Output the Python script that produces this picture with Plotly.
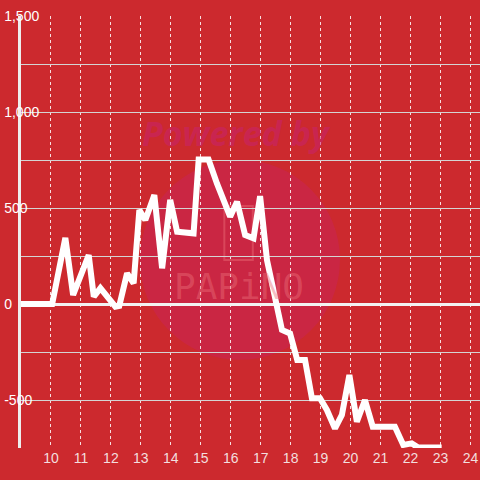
import plotly.graph_objects as go

# 时间（小时）与数值
hours = [9.0, 10.04, 10.48, 10.74, 11.26, 11.43, 11.65, 12.15, 12.28, 12.54, 12.76,
         12.95, 13.15, 13.45, 13.71, 13.98, 14.21, 14.76, 14.93, 15.26, 15.54,
         15.98, 16.21, 16.48, 16.76, 16.98, 17.21, 17.71, 17.98, 18.22, 18.48,
         18.71, 18.98, 19.21, 19.48, 19.71, 19.96, 20.21, 20.48, 20.74, 21.48,
         21.76, 22.04, 22.26, 23.04]
values = [0, 0, 344, 47, 255, 38, 83, -14, -10, 160, 108,
          490, 437, 567, 186, 542, 377, 368, 753, 753, 628,
          455, 533, 359, 342, 562, 229, -135, -153, -292, -292,
          -491, -491, -552, -648, -578, -370, -613, -500, -639, -639,
          -734, -726, -748, -748]

x_ticks = list(range(10, 25))
y_ticks = list(range(-750, 1501, 250))
y_labels = [f"{v:,}" if v % 500 == 0 else "" for v in y_ticks]

BG = "#cc292e"

fig = go.Figure()
fig.add_trace(go.Scatter(
    x=hours, y=values, mode="lines",
    line=dict(color="#ffffff", width=6),
    hoverinfo="skip", showlegend=False,
))

# 水印
fig.add_shape(type="circle", xref="paper", yref="paper",
              x0=0.259, x1=0.695, y0=0.204, y1=0.667,
              fillcolor="rgba(200,35,100,0.4)", line=dict(width=0), layer="below")
fig.add_shape(type="rect", xref="paper", yref="paper",
              x0=0.443, x1=0.505, y0=0.435, y1=0.56,
              fillcolor="rgba(0,0,0,0)", line=dict(color="rgba(235,110,120,0.45)", width=2),
              layer="below")
fig.add_annotation(x=0.47, y=0.73, xref="paper", yref="paper", yanchor="middle",
                   text="<b><i>Powered by</i></b>", showarrow=False,
                   font=dict(size=34, color="rgba(200,35,110,0.55)", family="Open Sans"))
fig.add_annotation(x=0.475, y=0.375, xref="paper", yref="paper", yanchor="middle",
                   text="PAPiNO", showarrow=False,
                   font=dict(size=36, color="rgba(235,110,120,0.45)", family="DejaVu Sans Mono"))

fig.update_layout(
    width=480, height=480,
    margin=dict(l=21, r=0, t=16, b=32),
    paper_bgcolor=BG, plot_bgcolor=BG,
    font=dict(family="Liberation Sans", size=14, color="#f3dede"),
)
fig.update_xaxes(
    range=[9, 24.32], tickvals=x_ticks, ticks="",
    showgrid=True, gridcolor="rgba(255,255,255,0.85)", gridwidth=1, griddash="dot",
    zeroline=False, showline=False,
)
fig.update_yaxes(
    range=[-750, 1500], tickvals=y_ticks, ticktext=y_labels, ticks="",
    ticklabelposition="inside", ticklabelstandoff=-17, ticklabeloverflow="allow",
    showgrid=True, gridcolor="#d4d4d4", gridwidth=1,
    zeroline=True, zerolinecolor="#f2f2f2", zerolinewidth=3,
    showline=True, linecolor="#eeeeee", linewidth=3,
)

fig.write_html("out.html", config={"displayModeBar": False},
               post_script="document.body.style.margin='0';")
